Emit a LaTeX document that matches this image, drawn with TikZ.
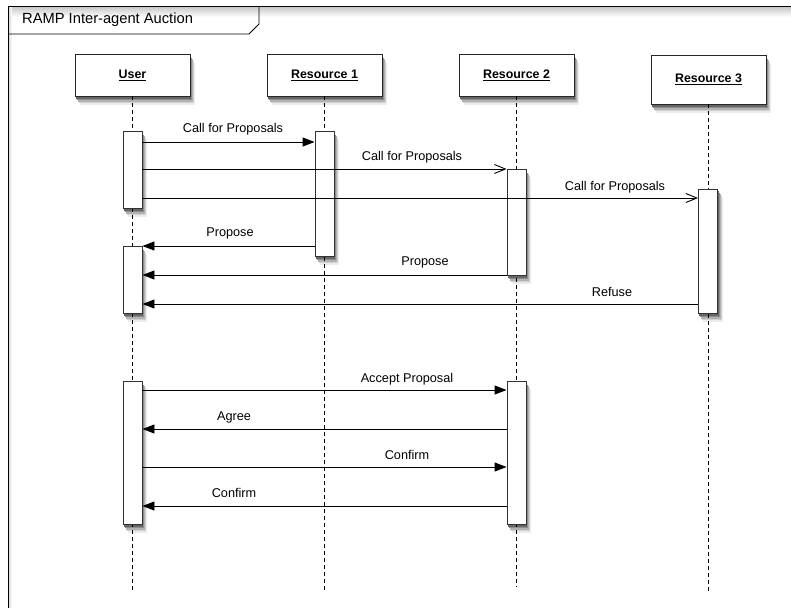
\documentclass[tikz,border=0pt]{standalone}
\usepackage{fontspec}
\setmainfont{Liberation Sans}
\usetikzlibrary{arrows.meta,backgrounds}
\begin{document}
\begin{tikzpicture}[x=1pt,y=-1pt,
  head/.style={draw=black!85, fill=white, line width=0.9pt, minimum width=115pt, inner sep=0pt,
    font=\fontsize{12.4}{14}\selectfont\bfseries},
  act/.style={draw=black!80, fill=white, line width=0.9pt, minimum width=19pt, inner sep=0pt},
  life/.style={dash pattern=on 4pt off 3pt, line width=0.8pt},
  sync/.style={-{Triangle[length=12pt,width=9pt]}, line width=0.9pt},
  async/.style={-{Straight Barb[length=11pt,width=9pt]}, line width=0.9pt},
  lbl/.style={inner sep=0pt, font=\fontsize{12.7}{14}\selectfont}
]
\useasboundingbox (0,0) rectangle (791,607);
\clip (0,0) rectangle (791,607);
% frame
\shade[top color=black!22, bottom color=white] (8.5,6.5) rectangle (791,17);
\shade[left color=black!15, right color=white] (8.5,6.5) rectangle (12,607);
\draw[line width=0.9pt] (8,620) -- (8,6) -- (800,6);
\draw[line width=0.9pt] (8,34) -- (249,34) -- (259,24) -- (259,6);
\node[anchor=west, inner sep=0pt, font=\fontsize{14.7}{16}\selectfont] (title) at (22,20) {RAMP Inter-agent Auction};

% heads
\node[head, minimum height=42pt] (user) at (132.5,75) {\underline{User}};
\node[head, minimum height=42pt] (r1) at (324.5,75) {\underline{Resource 1}};
\node[head, minimum height=42pt] (r2) at (516.5,75) {\underline{Resource 2}};
\node[head, minimum height=49pt] (r3) at (708.5,79.5) {\underline{Resource 3}};

% lifeline ends
\coordinate (ue) at (132.5,592);
\coordinate (r1e) at (324.5,592);
\coordinate (r2e) at (516.5,587);
\coordinate (r3e) at (708.5,592);
\draw[life] (user.south) -- (ue);
\draw[life] (r1.south) -- (r1e);
\draw[life] (r2.south) -- (r2e);
\draw[life] (r3.south) -- (r3e);

% activations
\node[act, minimum height=77pt] (ua1) at (132.5,169.5) {};
\node[act, minimum height=67pt] (ua2) at (132.5,279.5) {};
\node[act, minimum height=143pt] (ua3) at (132.5,452.5) {};
\node[act, minimum height=125pt] (r1a) at (324.5,193.5) {};
\node[act, minimum height=106pt] (r2a1) at (516.5,222) {};
\node[act, minimum height=143pt] (r2a2) at (516.5,452.5) {};
\node[act, minimum height=124pt] (r3a) at (708,251) {};

% shadows
\begin{pgfonlayer}{background}
\foreach \n in {user,r1,r2,r3,ua1,ua2,ua3,r1a,r2a1,r2a2,r3a}{
  \foreach \dx/\dy/\c in {5/9/8, 4/7/18, 3/5.5/30, 2/4/45, 1/2.5/60}{
    \fill[black!\c] ([shift={(\dx,\dy)}]\n.south west)
      rectangle ([shift={(\dx,\dy)}]\n.north east);
  }
}
\end{pgfonlayer}

% messages
\draw[sync] (ua1.east |- 0,142) -- (r1a.west |- 0,142);
\node[lbl] (m1) at (233,129) {Call for Proposals};
\draw[async] (ua1.east |- 0,169) -- (r2a1.west |- 0,169);
\node[lbl] (m2) at (412,157) {Call for Proposals};
\draw[async] (ua1.east |- 0,198) -- (r3a.west |- 0,198);
\node[lbl] (m3) at (615,187) {Call for Proposals};

\draw[sync] (r1a.west |- 0,246) -- (ua2.east |- 0,246);
\node[lbl] (m4) at (230,233.5) {Propose};
\draw[sync] (r2a1.west |- 0,275) -- (ua2.east |- 0,275);
\node[lbl] (m5) at (425,262.5) {Propose};
\draw[sync] (r3a.west |- 0,304) -- (ua2.east |- 0,304);
\node[lbl] (m6) at (612,292) {Refuse};

\draw[sync] (ua3.east |- 0,390) -- (r2a2.west |- 0,390);
\node[lbl] (m7) at (407,379) {Accept Proposal};
\draw[sync] (r2a2.west |- 0,429) -- (ua3.east |- 0,429);
\node[lbl] (m8) at (234,417) {Agree};
\draw[sync] (ua3.east |- 0,467) -- (r2a2.west |- 0,467);
\node[lbl] (m9) at (407,455) {Confirm};
\draw[sync] (r2a2.west |- 0,506) -- (ua3.east |- 0,506);
\node[lbl] (m10) at (234,493) {Confirm};
\end{tikzpicture}
\end{document}
